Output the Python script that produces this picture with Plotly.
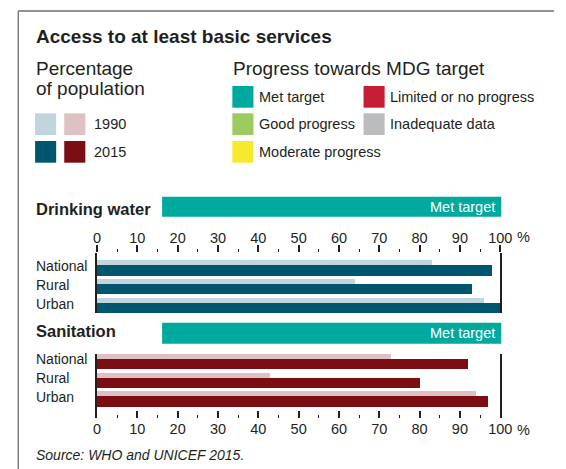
"""
Access to at least basic services - drinking water and sanitation
"""

import plotly.graph_objects as go

# =====================================================
# Data
# =====================================================

categories = ["National", "Rural", "Urban"]

water_1990 = [83, 64, 96]
water_2015 = [98, 93, 100]

sanitation_1990 = [73, 43, 94]
sanitation_2015 = [92, 80, 97]

water_status = "Met target"
sanitation_status = "Met target"

tick_values = [0, 10, 20, 30, 40, 50, 60, 70, 80, 90, 100]
tick_labels = ["0", "10", "20", "30", "40", "50", "60", "70", "80", "90", "100"]
minor_ticks = [5, 15, 25, 35, 45, 55, 65, 75, 85, 95]

progress_labels = ["Met target", "Good progress", "Moderate progress",
                   "Limited or no progress", "Inadequate data"]

# =====================================================
# Styling
# =====================================================

W, H = 566, 469
FONT = "Liberation Sans, Arial, Helvetica, sans-serif"
INK = "#231f20"

WATER_LIGHT = "#c0d5dc"
WATER_DARK = "#00566f"
SAN_LIGHT = "#dfc1c3"
SAN_DARK = "#7a0e12"

PROGRESS_COLORS = {
    "Met target": "#00a99e",
    "Good progress": "#9dcb61",
    "Moderate progress": "#f6e92e",
    "Limited or no progress": "#c41f33",
    "Inadequate data": "#bbbcbe",
}


# screen pixels -> paper coordinates
def px(x):
    return x / W


def py(y):
    return 1 - y / H


fig = go.Figure()

# =====================================================
# Bars
# =====================================================

bar_sets = [
    (water_1990, WATER_LIGHT, -0.40, 0.27, "x", "y"),
    (water_2015, WATER_DARK, -0.13, 0.54, "x", "y"),
    (sanitation_1990, SAN_LIGHT, -0.40, 0.27, "x2", "y2"),
    (sanitation_2015, SAN_DARK, -0.13, 0.54, "x2", "y2"),
]

for values, color, offset, width, xa, ya in bar_sets:
    fig.add_trace(
        go.Bar(
            x=values,
            y=categories,
            orientation="h",
            offset=offset,
            width=width,
            marker=dict(color=color, line=dict(width=0)),
            xaxis=xa,
            yaxis=ya,
            showlegend=False,
            hoverinfo="x+y",
        )
    )

# =====================================================
# Axes
# =====================================================

x_common = dict(
    range=[0, 100],
    domain=[px(95.7), px(510.7)],
    tickmode="array",
    tickvals=tick_values,
    ticktext=tick_labels,
    ticklen=7,
    tickwidth=1.6,
    tickcolor=INK,
    tickfont=dict(family=FONT, size=14.5, color=INK),
    showgrid=False,
    zeroline=False,
    showline=False,
    fixedrange=True,
)

y_common = dict(
    type="category",
    categoryorder="array",
    categoryarray=categories,
    showticklabels=False,
    ticks="",
    showgrid=False,
    zeroline=False,
    showline=True,
    mirror=True,
    linecolor=INK,
    linewidth=1.6,
    fixedrange=True,
)

fig.update_layout(
    xaxis=dict(
        x_common,
        anchor="y",
        side="top",
        ticks="outside",
        ticklabelstandoff=-3,
        minor=dict(tickvals=minor_ticks, ticks="outside", ticklen=3.5,
                   tickwidth=1.3, tickcolor=INK),
    ),
    yaxis=dict(
        y_common,
        anchor="x",
        domain=[py(313.3), py(253.3)],
        range=[2.418, -0.799],
    ),
    xaxis2=dict(
        x_common,
        anchor="y2",
        side="bottom",
        ticks="inside",
        minor=dict(tickvals=minor_ticks, ticks="inside", ticklen=3.5,
                   tickwidth=1.3, tickcolor=INK),
    ),
    yaxis2=dict(
        y_common,
        anchor="x2",
        domain=[py(418), py(353.7)],
        range=[3.046, -0.42],
    ),
)

# =====================================================
# Shapes: frame, status banners, legend swatches
# =====================================================

shapes = [
    dict(type="line", xref="paper", yref="paper", x0=px(14.7), x1=1,
         y0=py(11), y1=py(11), line=dict(color="#6d6e71", width=1.3)),
    dict(type="line", xref="paper", yref="paper", x0=px(14.7), x1=px(14.7),
         y0=py(11), y1=0, line=dict(color="#6d6e71", width=1.3)),
]

for status, (top, bottom) in [(water_status, (196.7, 216.7)),
                              (sanitation_status, (322.7, 343.7))]:
    shapes.append(dict(type="rect", xref="paper", yref="paper",
                       x0=px(162.7), x1=px(511.7), y0=py(bottom), y1=py(top),
                       fillcolor=PROGRESS_COLORS[status], line=dict(width=0)))


def swatch(x0, y0, color):
    return dict(type="rect", xref="paper", yref="paper",
                x0=px(x0), x1=px(x0 + 21.7), y0=py(y0 + 21.7), y1=py(y0),
                fillcolor=color, line=dict(width=0))


shapes += [
    swatch(32, 113.3, WATER_LIGHT),
    swatch(62, 113.3, SAN_LIGHT),
    swatch(32, 141, WATER_DARK),
    swatch(62, 141, SAN_DARK),
]

progress_pos = {
    "Met target": (235, 86),
    "Good progress": (235, 113.3),
    "Moderate progress": (235, 141),
    "Limited or no progress": (370, 86),
    "Inadequate data": (370, 113.3),
}

for label in progress_labels:
    x0, y0 = progress_pos[label]
    shapes.append(swatch(x0, y0, PROGRESS_COLORS[label]))

# =====================================================
# Text
# =====================================================

annotations = []


def text(x, y, s, size, bold=False, italic=False, color=INK, anchor="left"):
    if bold:
        s = "<b>" + s + "</b>"
    if italic:
        s = "<i>" + s + "</i>"
    annotations.append(dict(
        x=px(x), y=py(y), xref="paper", yref="paper", text=s,
        showarrow=False, xanchor=anchor, yanchor="middle",
        borderpad=0, borderwidth=0,
        font=dict(family=FONT, size=size, color=color),
    ))


text(32.7, 36.7, "Access to at least basic services", 19, bold=True)
text(32.7, 68.3, "Percentage", 19)
text(32.7, 88.9, "of population", 19)
text(235.7, 68.3, "Progress towards MDG target", 19)

text(92.7, 124.2, "1990", 14.5)
text(92.7, 151.8, "2015", 14.5)

for label in progress_labels:
    x0, y0 = progress_pos[label]
    text(x0 + 27.3, y0 + 10.8, label, 14.5)

text(32.7, 209.2, "Drinking water", 16.5, bold=True)
text(32.7, 330.8, "Sanitation", 16.5, bold=True)

text(505, 206.7, water_status, 14.5, color="white", anchor="right")
text(505, 333.2, sanitation_status, 14.5, color="white", anchor="right")

text(527.5, 237, "%", 14.5)
text(527.5, 430, "%", 14.5)

text(32.7, 454.7, "Source: WHO and UNICEF 2015.", 14, italic=True)

# category labels, left aligned, tied to the category positions
for ya in ["y", "y2"]:
    for cat in categories:
        annotations.append(dict(
            x=px(32.7), y=cat, xref="paper", yref=ya, text=cat,
            showarrow=False, xanchor="left", yanchor="middle", yshift=2,
            borderpad=0, borderwidth=0,
            font=dict(family=FONT, size=14, color=INK),
        ))

# =====================================================
# Layout
# =====================================================

fig.update_layout(
    width=W,
    height=H,
    margin=dict(l=0, r=0, t=0, b=0),
    paper_bgcolor="white",
    plot_bgcolor="white",
    barmode="overlay",
    bargap=0,
    shapes=shapes,
    annotations=annotations,
    font=dict(family=FONT, color=INK),
    showlegend=False,
)

# pin the figure to the page corner so the page does not scroll
page_css = (
    "document.body.style.margin='0';"
    "document.body.style.overflow='hidden';"
    "document.documentElement.style.overflow='hidden';"
)

fig.write_html("out.html", post_script=page_css,
               config={"displayModeBar": False})
